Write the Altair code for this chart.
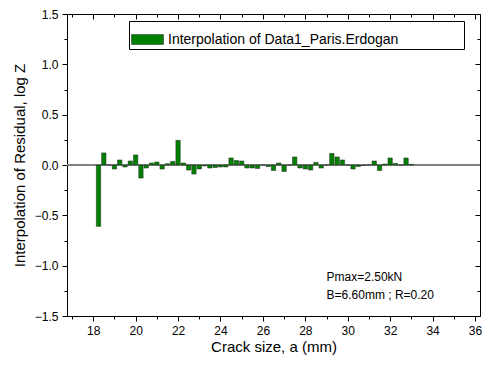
import altair as alt
import pandas as pd

# ---- data ----
crack_size = [18.25, 18.50, 18.75, 19.00, 19.25, 19.50, 19.75, 20.00, 20.25, 20.50,
              20.75, 21.00, 21.25, 21.50, 21.75, 22.00, 22.25, 22.50, 22.75, 23.00,
              23.25, 23.50, 23.75, 24.00, 24.25, 24.50, 24.75, 25.00, 25.25, 25.50,
              25.75, 26.00, 26.25, 26.50, 26.75, 27.00, 27.25, 27.50, 27.75, 28.00,
              28.25, 28.50, 28.75, 29.00, 29.25, 29.50, 29.75, 30.00, 30.25, 30.50,
              30.75, 31.00, 31.25, 31.50, 31.75, 32.00, 32.25, 32.50, 32.75, 33.00]
residual = [-0.61, 0.12, 0.0, -0.04, 0.05, -0.02, 0.04, 0.10, -0.13, -0.03,
            0.02, 0.03, -0.04, 0.013, 0.036, 0.245, 0.02, -0.05, -0.09, -0.04,
            -0.01, -0.03, -0.025, -0.02, -0.02, 0.07, 0.045, 0.04, -0.03, -0.03,
            -0.035, 0.0, -0.015, -0.055, 0.02, -0.065, 0.0, 0.08, -0.03, -0.04,
            -0.05, 0.026, -0.03, 0.0, 0.115, 0.08, 0.05, 0.0, -0.04, -0.015,
            -0.005, 0.0, 0.04, -0.055, 0.01, 0.07, 0.016, 0.0, 0.07, 0.007]
series_name = "Interpolation of Data1_Paris.Erdogan"

x_major = [18, 20, 22, 24, 26, 28, 30, 32, 34, 36]
x_minor = [17, 19, 21, 23, 25, 27, 29, 31, 33, 35]
y_major = [-1.5, -1.0, -0.5, 0.0, 0.5, 1.0, 1.5]
y_minor = [-1.25, -0.75, -0.25, 0.25, 0.75, 1.25]

ann_text = ["Pmax=2.50kN", "B=6.60mm ; R=0.20"]
ann_x = [29.0, 29.0]
ann_y = [-1.11, -1.295]

df = pd.DataFrame({"a": crack_size, "z": residual, "series": [series_name] * len(crack_size)})
ann = pd.DataFrame({"t": ann_text, "x": ann_x, "y": ann_y})

FONT = "Liberation Sans"
xs = alt.Scale(domain=[17, 36], nice=False, zero=False)
ys = alt.Scale(domain=[-1.5, 1.5], nice=False, zero=False)


def blank_axis(orient, values, size, offset):
    return alt.Axis(orient=orient, values=values, tickSize=size, offset=offset,
                    labels=False, domain=False, grid=False, title=None,
                    tickColor="black", tickWidth=1)


zero = alt.Chart(df).mark_rule(color="#808080", strokeWidth=1).encode(
    y=alt.Y(datum=0, scale=ys, axis=None)
)

bars = alt.Chart(df).mark_bar(size=4.4, stroke="#2a2a2a", strokeWidth=0.5).encode(
    x=alt.X("a:Q", scale=xs,
            axis=alt.Axis(orient="bottom", values=x_major, tickSize=5, domain=False,
                          grid=False, title="Crack size, a (mm)", labelPadding=4,
                          titlePadding=3, format="d")),
    y=alt.Y("z:Q", scale=ys,
            axis=alt.Axis(orient="left", values=y_major, tickSize=5, domain=False,
                          grid=False, title="Interpolation of Residual, log Z",
                          format=".1f", labelPadding=4, titlePadding=7)),
    color=alt.Color("series:N", scale=alt.Scale(domain=[series_name], range=["#008000"]),
                    legend=alt.Legend(orient="none", legendX=62, legendY=7, title=" ",
                                      titleOrient="right", titlePadding=64,
                                      strokeColor="black", fillColor="white", padding=2,
                                      symbolType="M-1,-0.3125H1V0.3125H-1Z",
                                      symbolSize=1024, symbolStrokeColor="#2a2a2a",
                                      symbolStrokeWidth=0.5, labelFont=FONT,
                                      labelFontSize=14, labelColor="black",
                                      labelOffset=4, labelLimit=400)),
)

minor_bl = alt.Chart(df).mark_point(opacity=0).encode(
    x=alt.X("a:Q", scale=xs, axis=blank_axis("bottom", x_minor, 3, 0)),
    y=alt.Y("z:Q", scale=ys, axis=blank_axis("left", y_minor, 3, 0)),
)
major_tr = alt.Chart(df).mark_point(opacity=0).encode(
    x=alt.X("a:Q", scale=xs, axis=blank_axis("top", x_major, 5, -5)),
    y=alt.Y("z:Q", scale=ys, axis=blank_axis("right", y_major, 5, -5)),
)
minor_tr = alt.Chart(df).mark_point(opacity=0).encode(
    x=alt.X("a:Q", scale=xs, axis=blank_axis("top", x_minor, 3, -3)),
    y=alt.Y("z:Q", scale=ys, axis=blank_axis("right", y_minor, 3, -3)),
)

notes = alt.Chart(ann).mark_text(align="left", baseline="middle", font=FONT,
                                 fontSize=12, color="black").encode(
    x=alt.X("x:Q", scale=xs, axis=None),
    y=alt.Y("y:Q", scale=ys, axis=None),
    text="t:N",
)

chart = alt.layer(zero, bars, minor_bl, major_tr, minor_tr, notes).resolve_axis(
    x="independent", y="independent"
).properties(
    width=413, height=302,
    autosize=alt.AutoSizeParams(type="none"),
    padding={"left": 59, "top": 6, "right": 7, "bottom": 44},
).configure_view(
    stroke="black", strokeWidth=1
).configure_axis(
    labelFont=FONT, labelFontSize=12, labelColor="black",
    titleFont=FONT, titleFontSize=15, titleFontWeight="normal", titleColor="black",
    tickColor="black",
)

chart.save("out.html", embed_options={"renderer": "svg", "actions": False})
